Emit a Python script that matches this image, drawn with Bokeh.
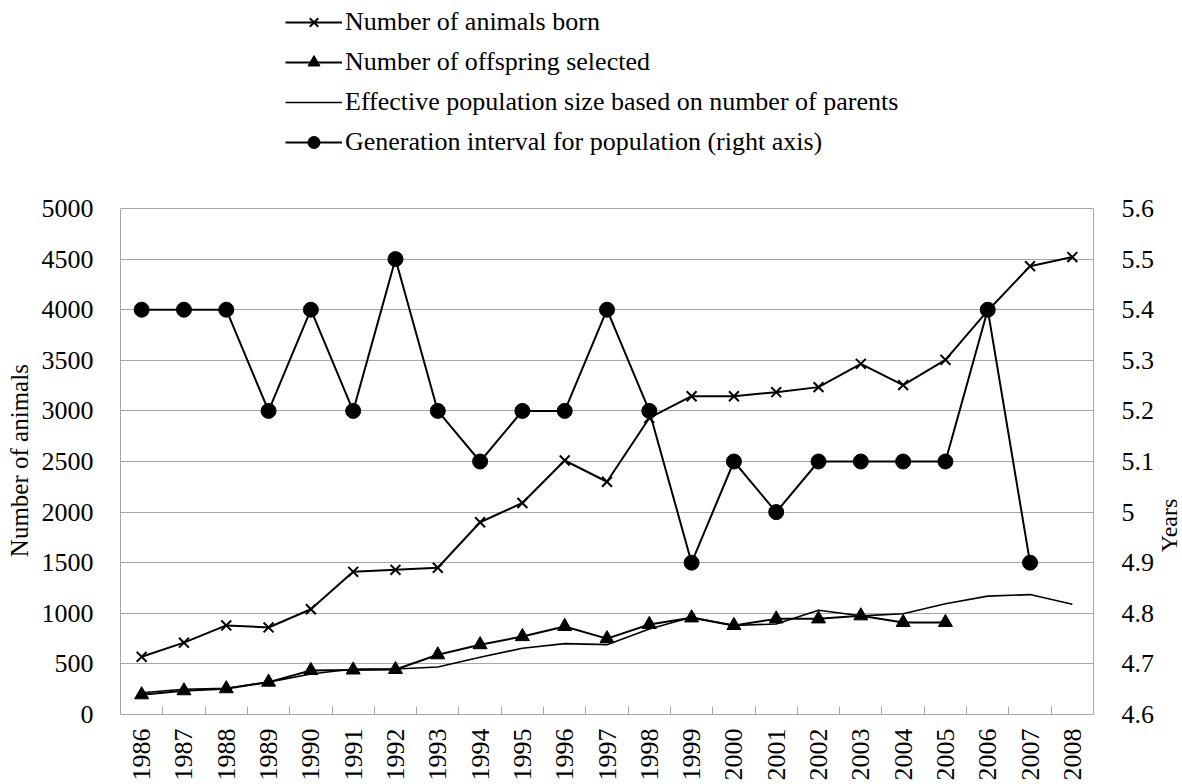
import math
from bokeh.plotting import figure
from bokeh.layouts import row
from bokeh.models import Range1d, LinearAxis, FixedTicker, Legend, LegendItem, Label
from bokeh.embed import file_html
from bokeh.resources import INLINE

years = list(range(1986, 2009))
born = [570, 710, 880, 860, 1040, 1410, 1430, 1450, 1900, 2090, 2510, 2300,
        2930, 3145, 3145, 3185, 3235, 3465, 3255, 3505, 3990, 4430, 4520]
offspring_years = list(range(1986, 2006))
offspring = [195, 235, 255, 320, 435, 440, 445, 590, 690, 770, 870, 750,
             890, 955, 880, 945, 945, 975, 910, 910]
effective = [215, 250, 260, 320, 400, 450, 450, 470, 565, 655, 700, 690,
             845, 960, 880, 895, 1030, 975, 995, 1095, 1170, 1185, 1090]
gen_years = list(range(1986, 2008))
gen_interval = [5.4, 5.4, 5.4, 5.2, 5.4, 5.2, 5.5, 5.2, 5.1, 5.2, 5.2, 5.4,
                5.2, 4.9, 5.1, 5.0, 5.1, 5.1, 5.1, 5.1, 5.4, 4.9]
left_ticks = list(range(0, 5001, 500))
right_ticks = [4.6, 4.7, 4.8, 4.9, 5.0, 5.1, 5.2, 5.3, 5.4, 5.5, 5.6]
right_tick_labels = ["4.6", "4.7", "4.8", "4.9", "5", "5.1", "5.2", "5.3", "5.4", "5.5", "5.6"]

FONT = "Liberation Serif"
GRAY = "#a6a6a6"
NBSP = "\u00a0"

# layout geometry (pixels)
PAGE_W, PAGE_H = 1182, 784
LEFT, RIGHT, BOTTOM = 120, 58, 70
FRAME_W = 973
AXIS_TOP = 208          # top of the value axes, below the legend
AXIS_H = 506            # height of the value axes
frame_h = AXIS_TOP + AXIS_H   # frame reaches the top so the legend can sit above the axes
scale = frame_h / AXIS_H
SIDE_W = PAGE_W - LEFT - FRAME_W - RIGHT

L0, L1 = left_ticks[0], left_ticks[-1]
R0, R1 = right_ticks[0], right_ticks[-1]

p = figure(frame_width=FRAME_W, frame_height=frame_h, output_backend="svg",
           toolbar_location=None,
           x_range=Range1d(years[0] - 0.5, years[-1] + 0.5),
           y_range=Range1d(L0, L0 + (L1 - L0) * scale),
           min_border_left=LEFT, min_border_top=0, min_border_right=RIGHT,
           min_border_bottom=BOTTOM)
p.extra_y_ranges = {"right": Range1d(R0, R0 + (R1 - R0) * scale)}
p.background_fill_color = "white"
p.border_fill_color = "white"
p.outline_line_color = None

# x axis
p.xaxis.ticker = FixedTicker(ticks=years, minor_ticks=[y + 0.5 for y in years[:-1]])
p.xaxis.major_label_orientation = math.pi / 2
p.xaxis.major_tick_line_color = None
p.xaxis.minor_tick_line_color = GRAY
p.xaxis.minor_tick_in = 8
p.xaxis.minor_tick_out = 0
p.xaxis.axis_line_color = GRAY
p.xaxis.major_label_standoff = 8
p.xaxis.major_label_text_font = FONT
p.xaxis.major_label_text_font_size = "26px"
p.xaxis.major_label_text_color = "black"

# left axis
p.yaxis.ticker = FixedTicker(ticks=left_ticks)
p.yaxis.bounds = (L0, L1)
p.yaxis.major_tick_line_color = None
p.yaxis.minor_tick_line_color = None
p.yaxis.axis_line_color = GRAY
p.yaxis.major_label_standoff = 21
p.yaxis.major_label_text_font = FONT
p.yaxis.major_label_text_font_size = "26px"
p.yaxis.major_label_text_color = "black"
# padded so that the title is centred on the value axis, not on the taller frame
p.yaxis.axis_label = "Number of animals" + NBSP * 33
p.yaxis.axis_label_text_font = FONT
p.yaxis.axis_label_text_font_size = "25px"
p.yaxis.axis_label_text_font_style = "normal"
p.yaxis.axis_label_text_color = "black"
p.yaxis.axis_label_standoff = 6

# right axis (its title is drawn in a narrow side panel)
raxis = LinearAxis(y_range_name="right", bounds=(R0, R1),
                   ticker=FixedTicker(ticks=right_ticks),
                   major_label_overrides={t: s for t, s in zip(right_ticks, right_tick_labels)},
                   major_tick_line_color=None, minor_tick_line_color=None,
                   axis_line_color=GRAY, major_label_standoff=22,
                   major_label_text_font=FONT, major_label_text_font_size="26px",
                   major_label_text_color="black")
p.add_layout(raxis, "right")

p.xgrid.grid_line_color = None
p.ygrid.grid_line_color = GRAY
p.ygrid.grid_line_width = 1

# series
r_born_l = p.line(years, born, line_color="black", line_width=2)
r_born_m = p.scatter(years, born, marker="x", size=14, line_color="black", line_width=2)
r_off_l = p.line(offspring_years, offspring, line_color="black", line_width=2)
r_off_m = p.scatter(offspring_years, offspring, marker="triangle", size=14,
                    fill_color="black", line_color="black")
r_eff = p.line(years, effective, line_color="black", line_width=1.6)
r_gen_l = p.line(gen_years, gen_interval, y_range_name="right", line_color="black", line_width=2)
r_gen_m = p.scatter(gen_years, gen_interval, y_range_name="right", marker="circle", size=15,
                    fill_color="black", line_color="black")

legend = Legend(items=[
    LegendItem(label="Number of animals born", renderers=[r_born_l, r_born_m]),
    LegendItem(label="Number of offspring selected", renderers=[r_off_l, r_off_m]),
    LegendItem(label="Effective population size based on number of parents", renderers=[r_eff]),
    LegendItem(label="Generation interval for population (right axis)", renderers=[r_gen_l, r_gen_m]),
], location=(165, frame_h - 157), orientation="vertical",
    glyph_width=57, glyph_height=30, label_height=30, spacing=10,
    padding=0, margin=0, label_standoff=3,
    label_text_font=FONT, label_text_font_size="26px", label_text_color="black",
    background_fill_alpha=0, border_line_color=None)
p.add_layout(legend, "center")

# narrow side panel carrying the right-axis title (its frame is aligned with the main frame)
side = figure(frame_width=SIDE_W, frame_height=frame_h, output_backend="svg",
              toolbar_location=None,
              x_range=Range1d(0, SIDE_W), y_range=Range1d(frame_h, 0),
              x_axis_type=None, y_axis_type=None,
              min_border_left=0, min_border_right=0, min_border_top=0,
              min_border_bottom=BOTTOM,
              outline_line_color=None, background_fill_color="white",
              border_fill_color="white")
side.xgrid.grid_line_color = None
side.ygrid.grid_line_color = None
side.add_layout(Label(x=SIDE_W - 20, y=AXIS_TOP + 317, text="Years", angle=math.pi / 2,
                      text_align="center", text_baseline="middle",
                      text_font=FONT, text_font_size="24px", text_color="black"))

layout = row(p, side, spacing=0)
open("out.html", "w").write(file_html(layout, INLINE))
